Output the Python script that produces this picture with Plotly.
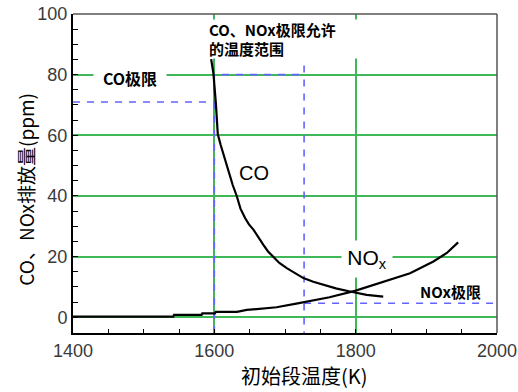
import plotly.graph_objects as go

# ---- data ----
co_temp = [1595.5, 1598.7, 1602.1, 1604.9, 1609, 1613, 1620, 1626, 1631.8, 1637, 1643.5,
           1649, 1655.3, 1662, 1669.4, 1676, 1683.5, 1692, 1702.5, 1714, 1726, 1740,
           1754.2, 1772, 1791.9, 1815.5, 1839]
co_ppm = [85.1, 80.4, 70.8, 60.3, 56.8, 53.6, 47.6, 43.6, 39.9, 35.8, 32.7,
          30.6, 28.9, 26.3, 23.9, 21.7, 19.8, 17.9, 16.2, 14.5, 12.9, 11.7,
          10.7, 9.5, 8.5, 7.4, 6.8]

nox_temp = [1400, 1542, 1543, 1582, 1583, 1601, 1602, 1632, 1646, 1688, 1716,
            1735, 1763, 1799, 1839, 1877, 1910, 1929, 1945]
nox_ppm = [0.2, 0.2, 0.76, 0.76, 1.3, 1.3, 1.75, 1.75, 2.4, 3.3, 4.5,
           5.3, 6.6, 8.7, 11.8, 14.5, 18.4, 21.2, 24.7]

co_limit_temp = [1400, 1600]
co_limit_ppm = [71, 71]
range_left_temp = [1600, 1600, 1727]
range_left_ppm = [-5.2, 80, 80]
range_right_temp = [1727, 1727]
range_right_ppm = [83, -5.2]
nox_limit_temp = [1727, 2000]
nox_limit_ppm = [4.6, 4.6]

x_range = [1400, 2000]
y_range = [-5.2, 100]

GREEN = "rgb(64,184,90)"
BLUE = "rgb(100,100,255)"
CJK = "Noto Sans CJK SC"
LAT = "Liberation Sans, Arial"

fig = go.Figure()

for xs, ys in [(co_limit_temp, co_limit_ppm), (range_left_temp, range_left_ppm),
               (range_right_temp, range_right_ppm), (nox_limit_temp, nox_limit_ppm)]:
    fig.add_trace(go.Scatter(x=xs, y=ys, mode="lines",
                             line=dict(color=BLUE, width=1.6, dash="7px,7px"),
                             hoverinfo="skip", showlegend=False))

fig.add_trace(go.Scatter(x=co_temp, y=co_ppm, mode="lines",
                         line=dict(color="black", width=2.2),
                         showlegend=False))
fig.add_trace(go.Scatter(x=nox_temp, y=nox_ppm, mode="lines",
                         line=dict(color="black", width=2.2),
                         showlegend=False))

fig.update_layout(
    width=518, height=392,
    margin=dict(l=73, r=21, t=14, b=59, autoexpand=False),
    paper_bgcolor="white", plot_bgcolor="white",
    showlegend=False,
    xaxis=dict(range=x_range, dtick=200, tick0=1400, automargin=False,
               showgrid=True, gridcolor=GREEN, gridwidth=1.5,
               zeroline=False, showline=True, linecolor="black", linewidth=2,
               ticks="inside", ticklen=4, tickcolor="black",
               minor=dict(dtick=50, ticks="inside", ticklen=4, tickcolor="black", showgrid=False),
               tickfont=dict(family=LAT, size=18, color="#3a3a3a")),
    yaxis=dict(range=y_range, dtick=20, tick0=0, automargin=False,
               showgrid=True, gridcolor=GREEN, gridwidth=1.5,
               zeroline=False, showline=True, linecolor="black", linewidth=2,
               ticks="inside", ticklen=5, tickcolor="black",
               minor=dict(dtick=5, ticks="inside", ticklen=5, tickcolor="black", showgrid=False),
               tickfont=dict(family=LAT, size=18, color="#3a3a3a")),
)

# top and right frame
fig.add_shape(type="line", xref="paper", yref="paper", x0=0, x1=1, y0=1, y1=1,
              line=dict(color="#555", width=1.5))
fig.add_shape(type="line", xref="paper", yref="paper", x0=1, x1=1, y0=0, y1=1,
              line=dict(color="#555", width=1.5))

# annotations
fig.add_annotation(x=1481, y=78.8, text="<b>CO极限</b>", showarrow=False,
                   font=dict(family=CJK, size=16, color="black"),
                   bgcolor="white", width=70, height=20)
fig.add_annotation(x=1589, y=91.7, xanchor="left", text="<b>CO、NOx极限允许<br>的温度范围</b>",
                   showarrow=False, align="left",
                   font=dict(family=CJK, size=15, color="black"),
                   bgcolor="white", width=152, height=36)
fig.add_annotation(x=1656, y=47.7, text="CO", showarrow=False,
                   font=dict(family=LAT, size=20, color="black"))
fig.add_annotation(x=1815.5, y=19.2, text="NO<sub>x</sub>", showarrow=False,
                   font=dict(family=LAT, size=21, color="black"),
                   bgcolor="white", width=48, height=34)
fig.add_annotation(x=1934.7, y=8.5, text="<b>NOx极限</b>", showarrow=False,
                   font=dict(family=CJK, size=15, color="black"))

fig.add_annotation(xref="paper", yref="paper", x=0.545, y=-0.133,
                   xanchor="center", yanchor="middle",
                   text="初始段温度(K)", showarrow=False,
                   font=dict(family=CJK, size=20, color="black"))
fig.add_annotation(xref="paper", yref="paper", x=-0.112, y=0.451,
                   xanchor="center", yanchor="middle",
                   text="CO、NOx排放量(ppm)", showarrow=False, textangle=-90,
                   font=dict(family=CJK, size=19, color="black"))

fig.write_html("out.html")
